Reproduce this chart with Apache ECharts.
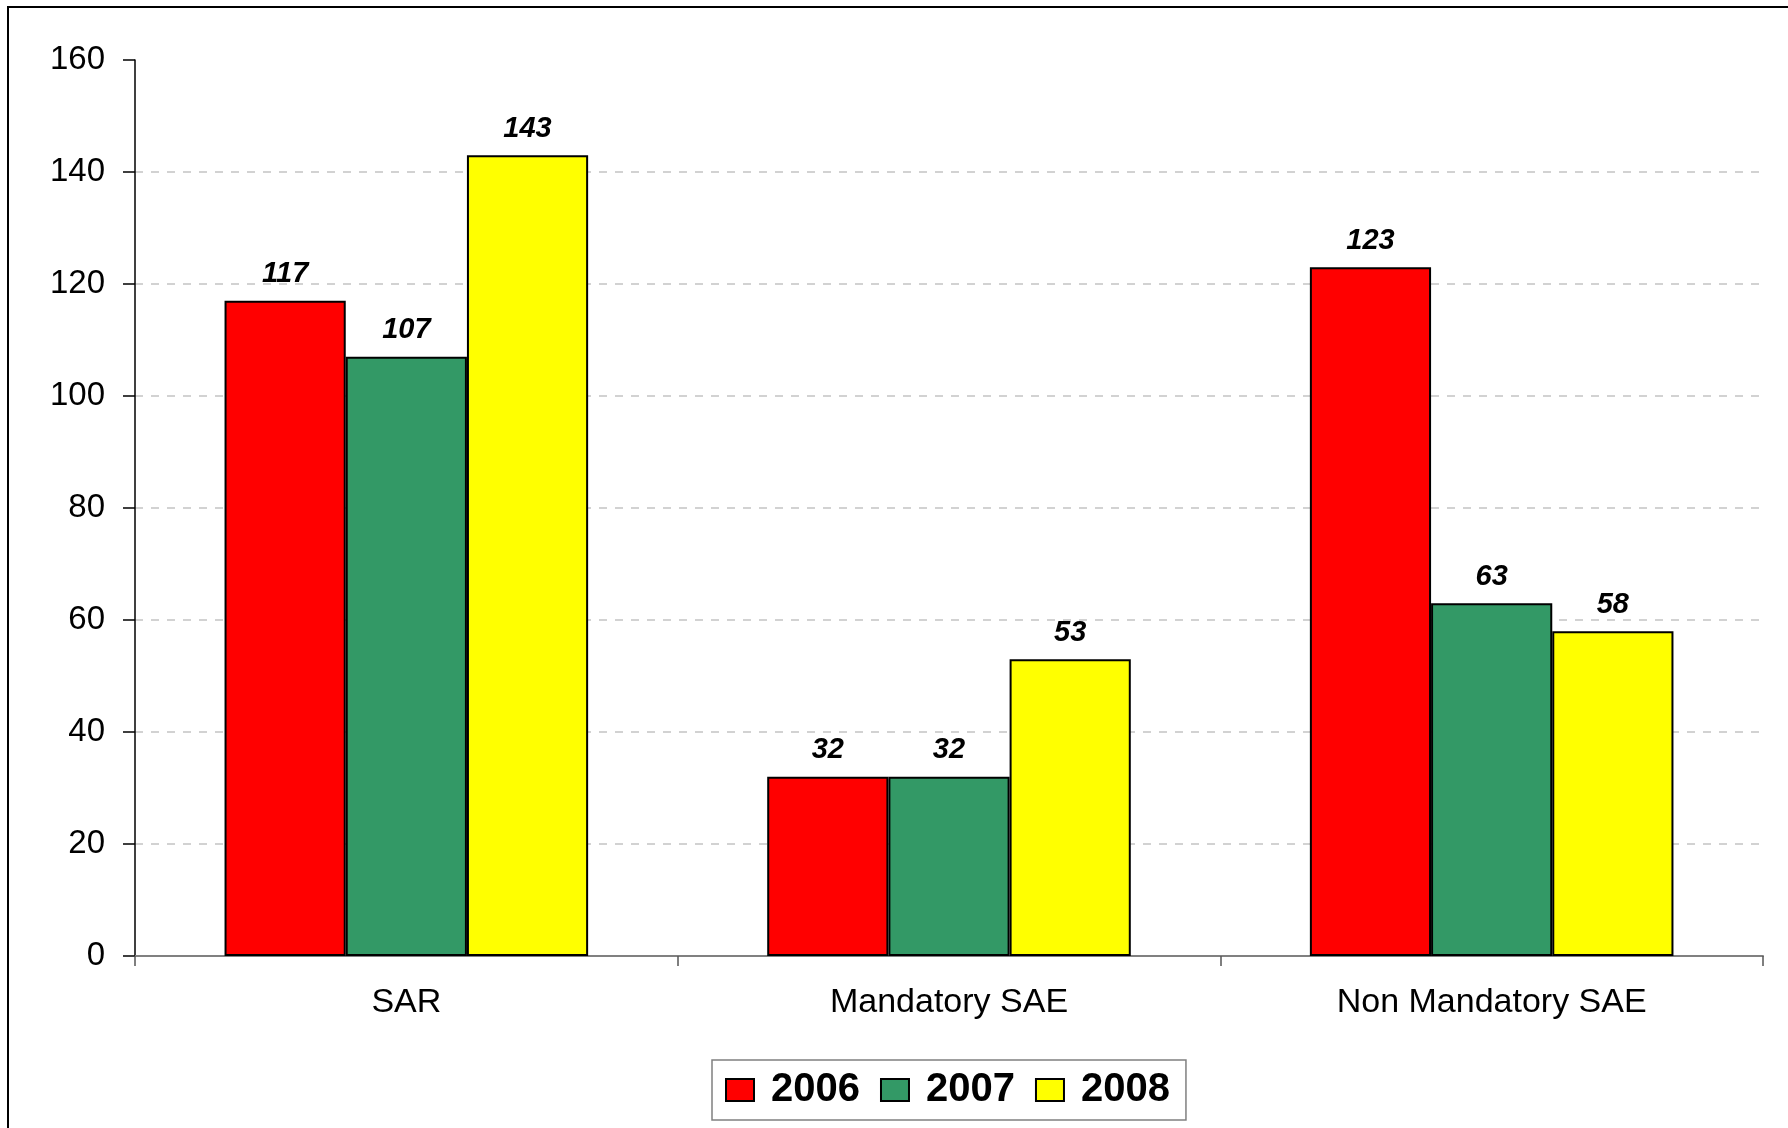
<!DOCTYPE html>
<html>
<head>
<meta charset="utf-8">
<script src="https://cdn.jsdelivr.net/npm/echarts@6/dist/echarts.min.js"></script>
<style>
  html, body { margin: 0; padding: 0; background: #fff; }
  #chart { width: 1788px; height: 1128px; }
</style>
</head>
<body>
<div id="chart"></div>
<script>
// Report counts per category and year
const categories = ['SAR', 'Mandatory SAE', 'Non Mandatory SAE'];
const years = ['2006', '2007', '2008'];
const values2006 = [117, 32, 123];
const values2007 = [107, 32, 63];
const values2008 = [143, 53, 58];
const yTicks = { min: 0, max: 160, interval: 20 };

const seriesColors = ['#FF0000', '#339966', '#FFFF00'];
const seriesData = [values2006, values2007, values2008];

const chart = echarts.init(document.getElementById('chart'), null, { renderer: 'canvas' });

const font = '"Liberation Sans", Arial, sans-serif';

chart.setOption({
  backgroundColor: '#ffffff',
  animation: false,
  graphic: [{
    type: 'rect',
    shape: { x: 8, y: 7, width: 1800, height: 1200 },
    style: { fill: 'none', stroke: '#000', lineWidth: 2 },
    silent: true
  }],
  grid: { left: 135, right: 25, top: 60, bottom: 172, containLabel: false },
  legend: {
    data: years,
    left: 712,
    top: 1060,
    orient: 'horizontal',
    icon: 'rect',
    itemWidth: 28,
    itemHeight: 22,
    itemGap: 20,
    padding: [10, 16, 10, 13],
    borderColor: '#808080',
    borderWidth: 1.5,
    backgroundColor: '#fff',
    textStyle: {
      fontFamily: font, fontSize: 40, fontWeight: 'bold', color: '#000',
      padding: [0, 0, 0, 12]
    },
    itemStyle: { borderColor: '#000', borderWidth: 2 }
  },
  xAxis: {
    type: 'category',
    data: categories,
    axisLine: { lineStyle: { color: '#808080', width: 2 } },
    axisTick: { show: true, length: 10, lineStyle: { color: '#555', width: 1.5 } },
    axisLabel: { fontFamily: font, fontSize: 34, color: '#000', margin: 30 }
  },
  yAxis: {
    type: 'value',
    min: yTicks.min,
    max: yTicks.max,
    interval: yTicks.interval,
    axisLine: { show: true, lineStyle: { color: '#000', width: 1.5 } },
    axisTick: { show: true, length: 12, lineStyle: { color: '#000', width: 1.5 } },
    axisLabel: { fontFamily: font, fontSize: 33, color: '#000', margin: 30 },
    splitLine: {
      show: true,
      showMaxLine: false,
      lineStyle: { color: '#c4c4c4', width: 1.5, type: [8, 8] }
    }
  },
  series: years.map((y, i) => ({
    name: y,
    type: 'bar',
    data: seriesData[i],
    barGap: '0%',
    barCategoryGap: '33%',
    itemStyle: { color: seriesColors[i], borderColor: '#000', borderWidth: 2 },
    label: {
      show: true,
      position: 'top',
      distance: 12,
      fontFamily: font,
      fontSize: 29,
      fontStyle: 'italic',
      fontWeight: 'bold',
      color: '#000'
    }
  }))
});
</script>
</body>
</html>
